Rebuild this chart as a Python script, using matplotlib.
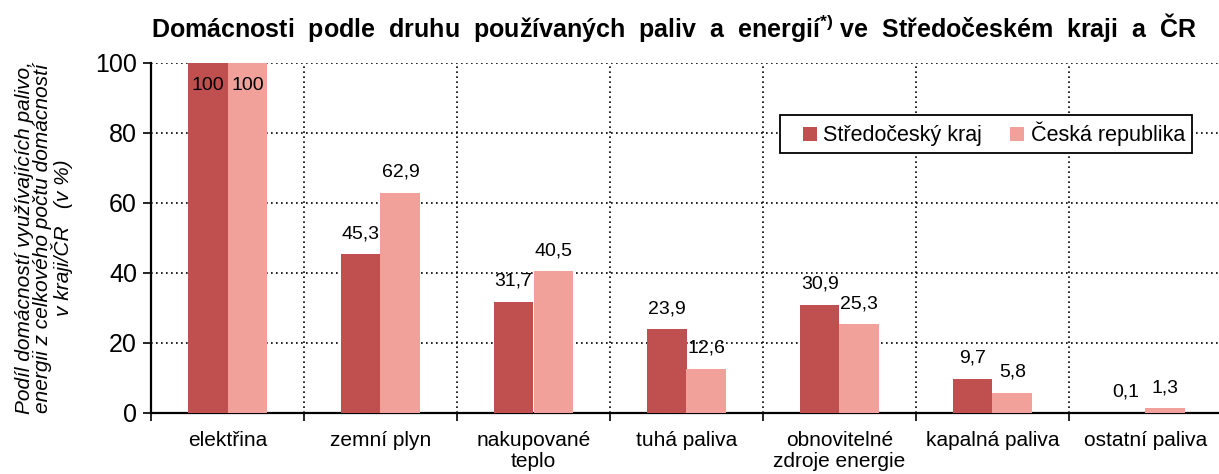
import numpy as np
import matplotlib
matplotlib.use('Agg')
import matplotlib.pyplot as plt
from matplotlib.patches import Rectangle

plt.rcParams['font.family'] = ['Liberation Sans', 'DejaVu Sans']
plt.rcParams['mathtext.fontset'] = 'custom'
plt.rcParams['mathtext.rm'] = 'Liberation Sans:bold'
plt.rcParams['mathtext.bf'] = 'Liberation Sans:bold'

# data
kategorie = ['elektřina', 'zemní plyn', 'nakupované\nteplo', 'tuhá paliva',
             'obnovitelné\nzdroje energie', 'kapalná paliva', 'ostatní paliva']
stredocesky = [100, 45.3, 31.7, 23.9, 30.9, 9.7, 0.1]
cr = [100, 62.9, 40.5, 12.6, 25.3, 5.8, 1.3]
serie = ['Středočeský kraj', 'Česká republika']

barva1 = '#C0504F'
barva2 = '#F1A199'

fig = plt.figure(figsize=(12.19, 4.74), dpi=100)
ax = fig.add_axes([151/1219, 1 - 413/474, (1222 - 151)/1219, 350/474])

x = np.arange(len(kategorie))
w = 0.26
b1 = ax.bar(x - w/2, stredocesky, w, color=barva1, label=serie[0], zorder=3)
b2 = ax.bar(x + w/2, cr, w, color=barva2, label=serie[1], zorder=3)

def popisek(v):
    return ('%g' % v).replace('.', ',')

for bars, vals in ((b1, stredocesky), (b2, cr)):
    for r, v in zip(bars, vals):
        cx = r.get_x() + r.get_width()/2
        if v >= 100:
            ax.text(cx, v - 6.3, popisek(v), ha='center', va='center', fontsize=14, zorder=4)
        else:
            ax.text(cx, v + 3.5, popisek(v), ha='center', va='bottom', fontsize=14, zorder=4)

ax.set_xlim(-0.5, len(kategorie) - 0.5)
ax.set_ylim(0, 100)
ax.set_yticks([0, 20, 40, 60, 80, 100])
ax.tick_params(axis='y', labelsize=18, length=6, width=1.2, direction='out', pad=4)
ax.set_xticks(x)
ax.set_xticklabels(kategorie, fontsize=15, linespacing=1.1)
ax.tick_params(axis='x', length=0, pad=13)

# category separators and grid
ax.set_xticks(np.arange(-0.5, len(kategorie) + 0.5, 1), minor=True)
ax.tick_params(axis='x', which='minor', length=6, width=1.2, direction='out')
ax.grid(axis='y', which='major', color='black', linestyle=(0, (1, 2)), linewidth=1.2, zorder=1)
for xv in np.arange(0.5, len(kategorie) - 0.5, 1):
    ax.axvline(xv, color='black', linestyle=(0, (1, 2)), linewidth=1.2, zorder=1)

for s in ('top', 'right'):
    ax.spines[s].set_visible(False)
ax.spines['left'].set_linewidth(1.6)
ax.spines['bottom'].set_linewidth(1.6)

ax.set_ylabel('Podíl domácností využívajících palivo,\nenergii z celkového počtu domácností\nv kraji/ČR   (v %)',
              fontsize=15, style='italic', linespacing=0.95, labelpad=16)

# legend frame drawn separately so the box can be as wide as in the original
ax.add_patch(Rectangle((780/1219, 1 - 153/474), 412/1219, 38/474, transform=fig.transFigure,
                       facecolor='white', edgecolor='black', linewidth=1.3, zorder=5, clip_on=False))
leg = ax.legend(loc='center left', bbox_to_anchor=(803/1219, 1 - 134/474), bbox_transform=fig.transFigure,
                ncol=2, fontsize=15.5, frameon=False, handlelength=0.65, handleheight=0.65,
                handletextpad=0.3, columnspacing=1.3, borderpad=0, borderaxespad=0)
leg.set_zorder(6)

fig.text(674/1219, 1 - 28/474, 'Domácnosti  podle  druhu  používaných  paliv  a  energií$^{*)}$ ve  Středočeském  kraji  a  ČR',
         ha='center', va='center', fontsize=18, fontweight='bold')

fig.savefig('out.png', dpi=100)
